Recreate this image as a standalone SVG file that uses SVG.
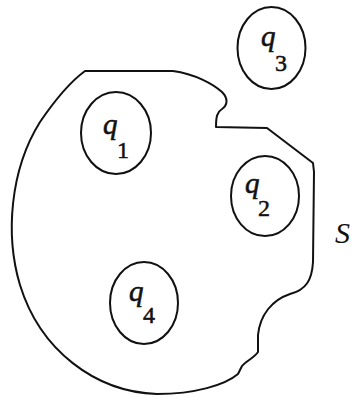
<svg xmlns="http://www.w3.org/2000/svg" width="352" height="409" viewBox="0 0 352 409">
<style>
.ln{fill:none;stroke:#111;stroke-width:2;stroke-linejoin:round;stroke-linecap:round}
.q{font-family:"Liberation Serif","DejaVu Serif",serif;font-style:italic;font-size:29px;fill:#111;stroke:#111;stroke-width:0.6}
.d{font-family:"Liberation Serif","DejaVu Serif",serif;font-size:24px;fill:#111;stroke:#111;stroke-width:0.5}
.s{font-family:"Liberation Serif","DejaVu Serif",serif;font-style:italic;font-size:30px;fill:#111}
</style>
<rect width="352" height="409" fill="#fff"/>
<g id="surface">
<path class="ln" d="M 85,71 L 173,71 C 195,74 213,84 222,92 C 228,98 228,105 222,109 C 217,112 216,117 216,127 L 267,128 L 313,163 L 314,172 L 313,262 C 312,280 306,290 290,294 C 272,300 260,315 258,335 L 258,352 C 254,358 246,361 242,366 L 238,374 C 225,385 195,394 157,394 C 95,392 40,350 20,285 C 5,235 10,170 40,122 C 55,100 70,82 85,71 Z"/>
<text class="s" x="335" y="243">S</text>
</g>
<g id="q1">
<ellipse class="ln" cx="116" cy="133" rx="35" ry="41"/>
<text class="q" x="103" y="134">q</text><text class="d" x="117" y="158">1</text>
</g>
<g id="q2">
<ellipse class="ln" cx="265" cy="196" rx="34" ry="40"/>
<text class="q" x="245" y="193">q</text><text class="d" x="258" y="216">2</text>
</g>
<g id="q3">
<ellipse class="ln" cx="271.5" cy="48" rx="34" ry="41"/>
<text class="q" x="261" y="46">q</text><text class="d" x="275" y="71">3</text>
</g>
<g id="q4">
<ellipse class="ln" cx="144" cy="303" rx="34" ry="41"/>
<text class="q" x="129" y="301">q</text><text class="d" x="143" y="323">4</text>
</g>
<g id="connectors"></g>
</svg>
